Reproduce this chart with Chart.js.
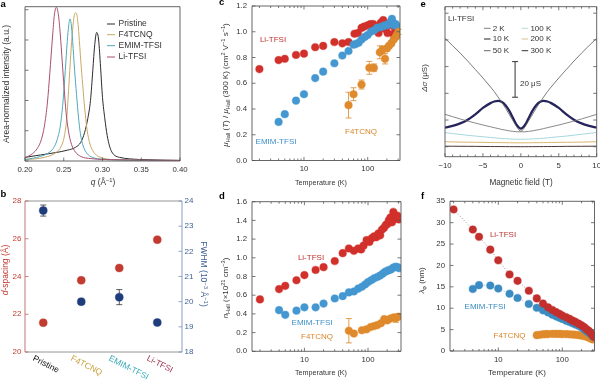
<!DOCTYPE html>
<html><head><meta charset="utf-8">
<script src="https://cdn.jsdelivr.net/npm/chart.js@4.4.1/dist/chart.umd.min.js"></script>
<style>
html,body{margin:0;padding:0;background:#fff;}
#wrap{position:relative;width:600px;height:381px;overflow:hidden;background:#fff;}
#wrap canvas{position:absolute;left:0;top:0;}
</style></head><body>
<div id="wrap">
<canvas id="pa" width="600" height="381"></canvas>
<canvas id="pb" width="600" height="381"></canvas>
<canvas id="pc" width="600" height="381"></canvas>
<canvas id="pd" width="600" height="381"></canvas>
<canvas id="pe" width="600" height="381"></canvas>
<canvas id="pf" width="600" height="381"></canvas>
</div>
<script>
// ================= DATA =================
// Panel a: area-normalized intensity vs q (Å^-1)
const aQPristine = [0.200,0.220,0.240,0.255,0.265,0.272,0.277,0.281,0.2845,0.2875,0.290,0.2925,0.295,0.2975,0.300,0.303,0.306,0.309,0.312,0.316,0.322,0.335,0.360,0.400];
const aIPristine = [0.12,0.20,0.28,0.36,0.45,0.62,0.95,1.40,2.0,3.0,3.85,4.25,4.0,3.1,2.1,1.4,0.85,0.5,0.3,0.18,0.12,0.07,0.04,0.02];
const aQF4 = [0.200,0.225,0.240,0.247,0.251,0.254,0.2565,0.259,0.2615,0.2635,0.2655,0.2675,0.2695,0.272,0.2745,0.277,0.280,0.284,0.290,0.300,0.320,0.400];
const aIF4 = [0.04,0.12,0.28,0.50,0.85,1.45,2.45,3.5,4.35,4.8,4.90,4.75,4.2,3.3,2.5,1.75,1.05,0.55,0.25,0.1,0.04,0.01];
const aQEmim = [0.200,0.220,0.232,0.238,0.242,0.2455,0.249,0.252,0.2545,0.2565,0.258,0.2595,0.2615,0.264,0.2665,0.269,0.2715,0.275,0.280,0.287,0.300,0.330,0.400];
const aIEmim = [0.05,0.15,0.30,0.48,0.75,1.15,1.95,3.0,3.95,4.5,4.70,4.55,3.95,3.0,2.2,1.45,0.9,0.5,0.25,0.12,0.06,0.03,0.01];
const aQLi = [0.200,0.210,0.216,0.221,0.225,0.229,0.232,0.2355,0.238,0.2405,0.243,0.2455,0.248,0.2505,0.253,0.256,0.260,0.265,0.272,0.285,0.320,0.400];
const aILi = [0.10,0.25,0.42,0.70,1.15,1.95,2.9,4.1,4.85,5.08,4.85,4.2,3.3,2.4,1.6,1.0,0.55,0.3,0.15,0.08,0.04,0.02];
const aLegend = ['Pristine','F4TCNQ','EMIM-TFSI','Li-TFSI'];
const aXTicks = [0.20,0.25,0.30,0.35,0.40];
const aXTickLabels = ['0.20','0.25','0.30','0.35','0.40'];
const aYTicks = [0,1,2,3,4,5];

// Panel b: d-spacing and FWHM per sample
const bCategories = ['Pristine','F4TCNQ','EMIM-TFSI','Li-TFSI'];
const bCatIndex = [0,1,2,3];
const bDSpacing = [21.55,23.8,24.45,25.95];
const bFwhm = [23.62,20.0,20.18,19.17];
const bFwhmErr = [0.22,0.1,0.3,0];
const bLeftTicks = [20,22,24,26,28];
const bRightTicks = [18,19,20,21,22,23,24];

// Panel c: normalized Hall mobility vs T (K)
const cT_Li = [2,4,5,7.5,10,15,20,30,40,50,62,70,80,88,100,110,122,135,148,160,175,190,205,220,240,255,270,290,305];
const cMu_Li = [0.71,0.78,0.79,0.82,0.83,0.88,0.89,0.92,0.91,0.92,0.985,0.99,1.03,1.04,1.05,1.06,1.06,1.04,0.99,1.07,1.09,1.02,0.99,1.05,1.07,0.98,1.02,0.98,1.0];
const cT_Emim = [4,5,7.5,10,15,20,30,40,50,60,65,72,80,90,100,112,125,140,155,170,185,200,215,230,240,250,262,275,290,305];
const cMu_Emim = [0.30,0.36,0.465,0.515,0.64,0.69,0.755,0.815,0.85,0.90,0.905,0.915,0.94,0.96,0.975,1.0,1.01,1.03,1.035,1.04,1.05,1.05,1.06,1.08,1.10,1.07,1.05,1.06,1.04,1.03];
const cT_F4 = [50,60,80,106,125,155,170,187,200,215,235,255,275,290,305];
const cMu_F4 = [0.43,0.515,0.59,0.72,0.72,0.84,0.86,0.79,0.87,0.89,0.91,0.94,0.96,0.98,1.0];
const cErr_F4 = [0.10,0.05,0.035,0.05,0.03,0.05,0.03,0.04,0.02,0.02,0.02,0.02,0.02,0.02,0.02];
const cYTicks = [0,0.2,0.4,0.6,0.8,1.0,1.2];

// Panel d: Hall carrier density vs T (K)
const dT_Li = [2,4,5,7.5,10,15,20,30,40,50,60,70,78,85,95,105,115,125,135,145,155,165,178,190,200,212,225,238,250,262,275,290,305];
const dN_Li = [0.555,0.665,0.70,0.76,0.815,0.87,0.90,0.965,1.05,1.10,1.075,1.10,1.09,1.13,1.19,1.17,1.21,1.23,1.22,1.26,1.24,1.30,1.32,1.35,1.36,1.40,1.43,1.38,1.49,1.46,1.42,1.45,1.41];
const dT_Emim = [4,5,7.5,10,15,20,30,40,50,60,70,80,90,100,112,125,140,155,170,185,200,215,230,250,270,290,305];
const dN_Emim = [0.44,0.39,0.435,0.47,0.47,0.51,0.565,0.59,0.63,0.64,0.67,0.69,0.715,0.74,0.76,0.78,0.795,0.81,0.83,0.85,0.86,0.87,0.875,0.895,0.905,0.90,0.89];
const dT_F4 = [50,60,80,95,110,125,140,160,180,200,225,250,275,300];
const dN_F4 = [0.22,0.19,0.225,0.235,0.26,0.27,0.28,0.30,0.345,0.33,0.35,0.36,0.355,0.37];
const dErr_F4 = [0.13,0,0,0,0,0,0,0,0,0,0,0,0.045,0];
const dYTicks = [0,0.2,0.4,0.6,0.8,1.0,1.2,1.4,1.6];

// Shared log-axis ticks (K)
const logTicksT = [2,3,4,5,6,7,8,9,10,20,30,40,50,60,70,80,90,100,200,300];
const logTickLabelsT = [10,100];

// Panel e: magnetoconductance Δσ (μS) vs field (T), Li-TFSI
const eB = [-10,-9,-8,-7,-6,-5,-4,-3.5,-3,-2.5,-2,-1.5,-1,-0.5,0,0.5,1,1.5,2,2.5,3,3.5,4,5,6,7,8,9,10];
const e2K   = [60.9,56.8,52.6,48.1,43.4,38.6,33.6,30.9,27.9,24.8,21.5,17.9,14.4,10.9,8.7,10.9,14.4,17.9,21.5,24.8,27.9,30.9,33.6,38.6,43.4,48.1,52.6,56.8,60.9];
const e10K  = [10.7,11.7,13.1,15.2,18.2,21.8,24.5,25.4,25.7,25.1,23.2,20.0,15.8,11.9,10.2,11.9,15.8,20.0,23.2,25.1,25.7,25.4,24.5,21.8,18.2,15.2,13.1,11.7,10.7];
const e50K  = [18.2,16.9,15.6,14.4,13.3,12.2,11.2,10.7,10.2,9.7,9.3,8.9,8.6,8.4,8.4,8.4,8.6,8.9,9.3,9.7,10.2,10.7,11.2,12.2,13.3,14.4,15.6,16.9,18.2];
const e100K = [7.9,7.4,6.9,6.4,6.0,5.6,5.2,5.0,4.8,4.6,4.5,4.4,4.3,4.2,4.2,4.2,4.3,4.4,4.5,4.6,4.8,5.0,5.2,5.6,6.0,6.5,7.0,7.5,8.0];
const e200K = [2.8,2.7,2.6,2.55,2.5,2.45,2.4,2.35,2.3,2.3,2.25,2.25,2.2,2.2,2.2,2.2,2.2,2.25,2.25,2.3,2.3,2.35,2.4,2.45,2.5,2.55,2.6,2.7,2.8];
const e300K = [0.3,0.28,0.25,0.22,0.2,0.15,0.12,0.1,0.1,0.08,0.06,0.05,0.04,0.03,0.02,0.03,0.04,0.05,0.06,0.08,0.1,0.1,0.12,0.15,0.2,0.22,0.25,0.28,0.3];
const eLegend = ['2 K','10 K','50 K','100 K','200 K','300 K'];
const eXTicks = [-10,-9,-8,-7,-6,-5,-4,-3,-2,-1,0,1,2,3,4,5,6,7,8,9,10];
const eXMajor = [-10,-5,0,5,10];
const eXTickLabels = ['−10','−5','0','5','10'];
const eYTicks = [0,15,30,45,60,75];
const eScaleBar = 20; // μS

// Panel f: phase coherence length λφ (nm) vs T (K)
const fT_Li = [2,4,5,7.5,10,15,20,30,40,50,60,70,80,90,100,115,130,145,160,180,200,220,240,260,280,300,315];
const fL_Li = [33.1,28.4,26.7,23.7,21.2,17.9,16.4,14.1,12.3,11.1,10.2,9.6,9.1,8.7,8.3,7.9,7.5,7.1,6.8,6.4,6.0,5.6,5.1,4.7,4.2,3.6,3.3];
const fT_Emim = [4,5,7.5,10,15,20,30,40,50,60,70,80,90,100,115,130,145,160,180,200,220,240,260,280,300];
const fL_Emim = [14.5,15.4,15.3,14.6,13.4,12.4,11.0,10.1,9.5,9.0,8.5,8.1,7.8,7.5,7.1,6.8,6.5,6.2,5.9,5.5,5.1,4.6,4.3,3.9,3.4];
const fT_F4 = [40,45,50,55,60,70,80,90,100,115,130,145,160,180,200,220,240,260,280,300];
const fL_F4 = [3.7,3.8,3.9,3.95,3.95,4.0,4.0,4.0,3.95,3.95,3.9,3.85,3.8,3.7,3.6,3.5,3.35,3.1,2.9,2.7];
const fYTicks = [0,5,10,15,20,25,30,35];

// ================= HELPERS =================
const FAM = "'Liberation Sans', Arial, Helvetica, sans-serif";
Chart.defaults.font.family = FAM;
Chart.defaults.font.size = 7.8;
Chart.defaults.color = '#333';

const pts = (xs, ys) => xs.map((x, i) => ({x, y: ys[i]}));
const area = (L, T, R, B, lw = 20, rw = 0, bh = 20) => ({left: L - lw, top: T, right: 600 - R - rw, bottom: 381 - B - bh});

function axis(pos, type, min, max, tickVals, majorVals, labelFn, o = {}) {
  return {
    type, position: pos, min, max,
    grid: {display: false, drawTicks: false}, border: {display: false},
    afterBuildTicks: s => { s.ticks = tickVals.map(v => ({value: v, major: majorVals ? majorVals.includes(v) : true})); },
    afterFit: s => {
      if (pos === 'bottom' || pos === 'top') s.height = o.size ?? 20; else s.width = o.size ?? 20;
      s.paddingLeft = s.paddingRight = s.paddingTop = s.paddingBottom = 0;
    },
    ticks: {display: !!labelFn, autoSkip: false, maxRotation: 0, minRotation: 0, padding: o.padding ?? 4,
      color: o.color || '#333', font: {size: o.fontSize || 7.8}, callback: labelFn || (() => '')}
  };
}
const logLabel = v => logTickLabelsT.includes(v) ? String(v) : '';

function seg(ctx, x1, y1, x2, y2) { ctx.beginPath(); ctx.moveTo(x1, y1); ctx.lineTo(x2, y2); ctx.stroke(); }

function drawText(ctx, tx) {
  const size = tx.size || 8;
  const segs = tx.rich || [{t: tx.t}];
  const fnt = (s, sg) => `${(sg.italic || tx.italic) ? 'italic ' : ''}${tx.bold ? 'bold ' : ''}${s}px ${FAM}`;
  let total = 0;
  segs.forEach(sg => { const s = (sg.sub || sg.sup) ? size * 0.7 : size; ctx.font = fnt(s, sg); sg._w = ctx.measureText(sg.t).width; total += sg._w; });
  ctx.save();
  ctx.translate(tx.x, tx.y);
  if (tx.rot) ctx.rotate(tx.rot * Math.PI / 180);
  if (tx.maxW && total > tx.maxW) ctx.scale(tx.maxW / total, 1);
  let x0 = tx.align === 'left' ? 0 : tx.align === 'right' ? -total : -total / 2;
  ctx.fillStyle = tx.color || '#333';
  ctx.textBaseline = 'middle'; ctx.textAlign = 'left';
  segs.forEach(sg => {
    const s = (sg.sub || sg.sup) ? size * 0.7 : size;
    ctx.font = fnt(s, sg);
    const dy = sg.sub ? size * 0.3 : sg.sup ? -size * 0.35 : 0;
    ctx.fillText(sg.t, x0, dy);
    x0 += sg._w;
  });
  ctx.restore();
}

const DECO = {};
const deco = {
  id: 'deco',
  beforeDatasetsDraw(chart) {
    const ctx = chart.ctx;
    chart.data.datasets.forEach(ds => {
      if (!ds.errorBars) return;
      const xs = chart.scales[ds.xAxisID || 'x'], ys = chart.scales[ds.yAxisID || 'y'];
      ctx.save(); ctx.strokeStyle = ds.errColor || ds.backgroundColor; ctx.lineWidth = 0.8;
      ds.data.forEach((p, i) => {
        const e = ds.errorBars[i]; if (!e) return;
        const px = xs.getPixelForValue(p.x), y1 = ys.getPixelForValue(p.y - e), y2 = ys.getPixelForValue(p.y + e);
        seg(ctx, px, y1, px, y2); seg(ctx, px - 3, y1, px + 3, y1); seg(ctx, px - 3, y2, px + 3, y2);
      });
      ctx.restore();
    });
  },
  afterDraw(chart) {
    const o = DECO[chart.canvas.id] || {};
    const ctx = chart.ctx, ca = chart.chartArea;
    ctx.save();
    ctx.lineWidth = 0.9;
    const fc = o.frameColors || {};
    const c0 = o.frameColor || '#555';
    ctx.strokeStyle = fc.top || c0; seg(ctx, ca.left, ca.top, ca.right, ca.top);
    ctx.strokeStyle = fc.bottom || c0; seg(ctx, ca.left, ca.bottom, ca.right, ca.bottom);
    ctx.strokeStyle = fc.left || c0; seg(ctx, ca.left, ca.top, ca.left, ca.bottom);
    ctx.strokeStyle = fc.right || c0; seg(ctx, ca.right, ca.top, ca.right, ca.bottom);
    (o.ticks || []).forEach(sp => {
      const s = chart.scales[sp.axis];
      ctx.strokeStyle = sp.color || c0; ctx.lineWidth = 0.8;
      s.ticks.forEach(t => {
        const L = t.major ? (sp.len || 3.5) : (sp.minorLen || 2);
        const p = s.getPixelForValue(t.value);
        sp.sides.forEach(side => {
          if (side === 'bottom') seg(ctx, p, ca.bottom, p, ca.bottom - L);
          if (side === 'top') seg(ctx, p, ca.top, p, ca.top + L);
          if (side === 'left') seg(ctx, ca.left, p, ca.left + L, p);
          if (side === 'right') seg(ctx, ca.right, p, ca.right - L, p);
        });
      });
    });
    (o.segs || []).forEach(sg => { ctx.strokeStyle = sg.color; ctx.lineWidth = sg.width || 1; seg(ctx, sg.x1, sg.y, sg.x2, sg.y); });
    if (o.scaleBar) {
      const sb = o.scaleBar, xs = chart.scales.x, ys = chart.scales.y;
      const px = xs.getPixelForValue(sb.x), y1 = ys.getPixelForValue(sb.y0), y2 = ys.getPixelForValue(sb.y0 + sb.len);
      ctx.strokeStyle = '#333'; ctx.lineWidth = 1;
      seg(ctx, px, y1, px, y2); seg(ctx, px - 3, y1, px + 3, y1); seg(ctx, px - 3, y2, px + 3, y2);
    }
    if (o.catLabels) {
      const cl = o.catLabels, xs = chart.scales.x;
      cl.values.forEach((v, i) => drawText(ctx, {t: cl.labels[i], x: xs.getPixelForValue(v) + cl.dx, y: cl.y, rot: cl.rot, align: 'left', size: cl.size, color: cl.colors[i]}));
    }
    (o.texts || []).forEach(tx => drawText(ctx, tx));
    ctx.restore();
  }
};
Chart.register(deco);

function baseOpts(pad, scales) {
  return {responsive: false, animation: false, devicePixelRatio: 1, events: [],
    layout: {padding: pad}, plugins: {legend: {display: false}, tooltip: {enabled: false}}, scales};
}
const dotDs = (data, fill, halo, order, extra = {}) => Object.assign({
  data, backgroundColor: fill, borderColor: halo, borderWidth: 1.2, pointRadius: 3.8, pointBackgroundColor: fill,
  pointBorderColor: halo, pointBorderWidth: 1.2, showLine: false, order}, extra);
const lineDs = (data, color, width, extra = {}) => Object.assign({
  data, borderColor: color, backgroundColor: color, borderWidth: width, pointRadius: 0, showLine: true,
  cubicInterpolationMode: 'monotone', fill: false}, extra);

// colours
const RED = '#d2302b', RED_H = 'rgba(210,48,43,0.35)';
const BLUE = '#4497d0', BLUE_H = 'rgba(68,151,208,0.35)';
const ORA = '#df8a2c', ORA_H = 'rgba(223,138,44,0.35)';
const RED_F = '#c32f2c', RED_FH = 'rgba(195,47,44,0.35)';
const BLUE_F = '#3a8cc2', BLUE_FH = 'rgba(58,140,194,0.35)';

// ================= PANEL a =================
const aColors = ['#2b2b2b', '#c9a864', '#4fa9b9', '#a8506e'];
DECO.pa = {
  ticks: [{axis: 'x', sides: ['bottom']}, {axis: 'y', sides: ['left']}],
  segs: [0, 1, 2, 3].map(i => ({x1: 107, x2: 115, y: [24, 34.7, 45.7, 57][i], color: aColors[i], width: 1})),
  texts: [
    {t: 'a', x: 0.5, y: 4, size: 9.5, bold: 1, align: 'left', color: '#000'},
    {t: 'Area-normalized intensity (a.u.)', x: 7, y: 84, rot: -90, size: 8.5},
    {rich: [{t: 'q', italic: 1}, {t: ' (Å'}, {t: '−1', sup: 1}, {t: ')'}], x: 103, y: 183, size: 8.3},
    ...aLegend.map((t, i) => ({t, x: 118.5, y: [24, 34.7, 45.7, 57][i], align: 'left', size: 8.5}))
  ]
};
new Chart(document.getElementById('pa'), {
  type: 'scatter',
  data: {datasets: [
    lineDs(pts(aQLi, aILi), aColors[3], 1),
    lineDs(pts(aQEmim, aIEmim), aColors[2], 1),
    lineDs(pts(aQF4, aIF4), aColors[1], 1),
    lineDs(pts(aQPristine, aIPristine), aColors[0], 1)
  ]},
  options: baseOpts(area(25, 6.7, 180, 161), {
    x: axis('bottom', 'linear', 0.2, 0.4, aXTicks, null, (v, i) => aXTickLabels[i], {padding: 4}),
    y: axis('left', 'linear', 0, 5.1, aYTicks, null, null)
  })
});

// ================= PANEL b =================
const bRed = '#c23b30', bNavy = '#1f3c7c', bBlueAx = '#3d5f93';
DECO.pb = {
  frameColors: {left: '#b86a6a', right: '#7a93b8', top: '#888', bottom: '#888'},
  ticks: [{axis: 'y', sides: ['left'], color: '#b86a6a'}, {axis: 'y2', sides: ['right'], color: '#7a93b8'}],
  catLabels: {values: bCatIndex, labels: bCategories, colors: ['#111', '#c9a140', '#3aabb7', '#a0324f'], dx: -10, y: 358, rot: 27, size: 8.5},
  texts: [
    {t: 'b', x: 0.5, y: 194.5, size: 9.5, bold: 1, align: 'left', color: '#000'},
    {rich: [{t: 'd', italic: 1}, {t: '-spacing (Å)'}], x: 6, y: 270, rot: -90, size: 8.5, color: bRed},
    {rich: [{t: 'FWHM (10'}, {t: '−3', sup: 1}, {t: ' Å'}, {t: '−1', sup: 1}, {t: ')'}], x: 203, y: 274, rot: 90, size: 8.5, color: bBlueAx}
  ]
};
new Chart(document.getElementById('pb'), {
  type: 'scatter',
  data: {datasets: [
    dotDs(pts(bCatIndex, bDSpacing), bRed, 'rgba(194,59,48,0.35)', 2, {yAxisID: 'y', pointRadius: 4}),
    dotDs(pts(bCatIndex, bFwhm), bNavy, 'rgba(31,60,124,0.35)', 1, {yAxisID: 'y2', pointRadius: 4, errorBars: bFwhmErr, errColor: '#333'})
  ]},
  options: baseOpts(area(25, 201, 182, 352, 20, 20, 20), {
    x: axis('bottom', 'linear', -0.48, 3.65, [], null, null),
    y: axis('left', 'linear', 20, 28, bLeftTicks, null, v => String(v), {color: bRed, padding: 3.5, fontSize: 8}),
    y2: axis('right', 'linear', 18, 24, bRightTicks, null, v => String(v), {color: bBlueAx, padding: 2.5, fontSize: 8})
  })
});

// ================= PANEL c =================
DECO.pc = {
  ticks: [{axis: 'x', sides: ['bottom', 'top']}, {axis: 'y', sides: ['left', 'right']}],
  texts: [
    {t: 'c', x: 219, y: 2.5, size: 9.5, bold: 1, align: 'left', color: '#000'},
    {rich: [{t: 'μ', italic: 1}, {t: 'Hall', sub: 1}, {t: ' ('}, {t: 'T', italic: 1}, {t: ') / '}, {t: 'μ', italic: 1}, {t: 'Hall', sub: 1},
      {t: ' (300 K) (cm'}, {t: '2', sup: 1}, {t: ' V'}, {t: '−1', sup: 1}, {t: ' s'}, {t: '−1', sup: 1}, {t: ')'}],
      x: 226, y: 85, rot: -90, size: 8, maxW: 132},
    {t: 'Temperature (K)', x: 321, y: 182.5, size: 8, maxW: 52},
    {t: 'Li-TFSI', x: 273, y: 40, size: 8, color: '#c0302c'},
    {t: 'EMIM-TFSI', x: 276, y: 142, size: 8, color: '#3d8fc8'},
    {t: 'F4TCNQ', x: 361, y: 132, size: 8, color: '#d9862a'}
  ]
};
new Chart(document.getElementById('pc'), {
  type: 'scatter',
  data: {datasets: [
    dotDs(pts(cT_Li, cMu_Li), RED, RED_H, 3),
    dotDs(pts(cT_Emim, cMu_Emim), BLUE, BLUE_H, 2),
    dotDs(pts(cT_F4, cMu_F4), ORA, ORA_H, 1, {errorBars: cErr_F4, errColor: '#d9862a'})
  ]},
  options: baseOpts(area(252, 6, 400, 160.5), {
    x: axis('bottom', 'logarithmic', 1.53, 321, logTicksT, logTickLabelsT, logLabel),
    y: axis('left', 'linear', 0, 1.2, cYTicks, null, v => v.toFixed(1), {padding: 5})
  })
});

// ================= PANEL d =================
DECO.pd = {
  ticks: [{axis: 'x', sides: ['bottom', 'top']}, {axis: 'y', sides: ['left', 'right']}],
  texts: [
    {t: 'd', x: 219, y: 196.5, size: 9.5, bold: 1, align: 'left', color: '#000'},
    {rich: [{t: 'n', italic: 1}, {t: 'Hall', sub: 1}, {t: ' (×10'}, {t: '21', sup: 1}, {t: ' cm'}, {t: '−3', sup: 1}, {t: ')'}],
      x: 226, y: 288, rot: -90, size: 8, maxW: 86},
    {t: 'Temperature (K)', x: 321, y: 372.3, size: 8, maxW: 52},
    {t: 'Li-TFSI', x: 311, y: 258, size: 8, color: '#c0302c'},
    {t: 'EMIM-TFSI', x: 312, y: 323, size: 8, color: '#3d8fc8'},
    {t: 'F4TCNQ', x: 317, y: 337, size: 8, color: '#d9862a'}
  ]
};
new Chart(document.getElementById('pd'), {
  type: 'scatter',
  data: {datasets: [
    dotDs(pts(dT_Li, dN_Li), RED, RED_H, 3),
    dotDs(pts(dT_Emim, dN_Emim), BLUE, BLUE_H, 2),
    dotDs(pts(dT_F4, dN_F4), ORA, ORA_H, 1, {errorBars: dErr_F4, errColor: '#d9862a'})
  ]},
  options: baseOpts(area(252, 201.7, 401, 351.3), {
    x: axis('bottom', 'logarithmic', 1.5, 330, logTicksT, logTickLabelsT, logLabel),
    y: axis('left', 'linear', 0, 1.6, dYTicks, null, v => v.toFixed(1), {padding: 5})
  })
});

// ================= PANEL e =================
const eColors = ['#5a5a5a', '#26245c', '#6b6b6b', '#a6d6dc', '#d8b46e', '#4a3434'];
const eLegColors = ['#808080', '#222', '#666', '#b5dada', '#d7c18e', '#333'];
const eLegX = [484, 484, 484, 521.7, 521.7, 521.7];
const eLegY = [28.3, 39, 50.7, 28.3, 39, 50.7];
DECO.pe = {
  ticks: [{axis: 'x', sides: ['bottom', 'top']}, {axis: 'y', sides: ['left', 'right']}],
  segs: eLegend.map((t, i) => ({x1: eLegX[i], x2: eLegX[i] + 6.5, y: eLegY[i], color: eLegColors[i], width: 1})),
  scaleBar: {x: -0.76, y0: 27.8, len: eScaleBar},
  texts: [
    {t: 'e', x: 420.5, y: 4, size: 9.5, bold: 1, align: 'left', color: '#000'},
    {rich: [{t: 'Δσ', italic: 1}, {t: ' (μS)'}], x: 425, y: 78, rot: -90, size: 8},
    {t: 'Magnetic field (T)', x: 521, y: 182.7, size: 8.2},
    {t: 'Li-TFSI', x: 448, y: 18.3, size: 8, align: 'left'},
    ...eLegend.map((t, i) => ({t, x: eLegX[i] + 8.7, y: eLegY[i], size: 8, align: 'left'})),
    {t: eScaleBar + ' μS', x: 520, y: 83.3, size: 8, align: 'left'}
  ]
};
new Chart(document.getElementById('pe'), {
  type: 'scatter',
  data: {datasets: [
    lineDs(pts(eB, e300K), eColors[5], 1),
    lineDs(pts(eB, e200K), eColors[4], 1),
    lineDs(pts(eB, e100K), eColors[3], 1),
    lineDs(pts(eB, e50K), eColors[2], 0.8),
    lineDs(pts(eB, e2K), eColors[0], 0.8),
    lineDs(pts(eB, e10K), eColors[1], 2.3)
  ]},
  options: baseOpts(area(445, 6.7, 596.7, 156.7), {
    x: axis('bottom', 'linear', -10, 10, eXTicks, eXMajor, v => { const k = eXMajor.indexOf(v); return k >= 0 ? eXTickLabels[k] : ''; }),
    y: axis('left', 'linear', -5.6, 78.65, eYTicks, null, null)
  })
});

// ================= PANEL f =================
DECO.pf = {
  ticks: [{axis: 'x', sides: ['bottom', 'top']}, {axis: 'y', sides: ['left', 'right']}],
  texts: [
    {t: 'f', x: 421, y: 196, size: 9.5, bold: 1, align: 'left', color: '#000'},
    {rich: [{t: 'λ', italic: 1}, {t: 'φ', sub: 1}, {t: ' (nm)'}], x: 422, y: 280.5, rot: -90, size: 8},
    {t: 'Temperature (K)', x: 517, y: 372.3, size: 8},
    {t: 'Li-TFSI', x: 503, y: 235, size: 8, color: '#b83330'},
    {t: 'EMIM-TFSI', x: 485, y: 306.7, size: 8, color: '#3a8cc2'},
    {t: 'F4TCNQ', x: 509.5, y: 335.7, size: 8, color: '#d9862a'}
  ]
};
new Chart(document.getElementById('pf'), {
  type: 'scatter',
  data: {datasets: [
    dotDs(pts(fT_Li, fL_Li), RED_F, RED_FH, 1, {showLine: true, borderColor: 'rgba(150,60,60,0.8)', borderWidth: 0.8, borderDash: [1, 2]}),
    dotDs(pts(fT_Emim, fL_Emim), BLUE_F, BLUE_FH, 2, {showLine: true, borderColor: 'rgba(60,110,150,0.7)', borderWidth: 0.8, borderDash: [1, 2]}),
    dotDs(pts(fT_F4, fL_F4), ORA, ORA_H, 3)
  ]},
  options: baseOpts(area(450, 201.3, 594.5, 351), {
    x: axis('bottom', 'logarithmic', 1.76, 319, logTicksT, logTickLabelsT, logLabel),
    y: axis('left', 'linear', 0, 35, fYTicks, null, v => String(v), {padding: 5})
  })
});
</script>
</body></html>
